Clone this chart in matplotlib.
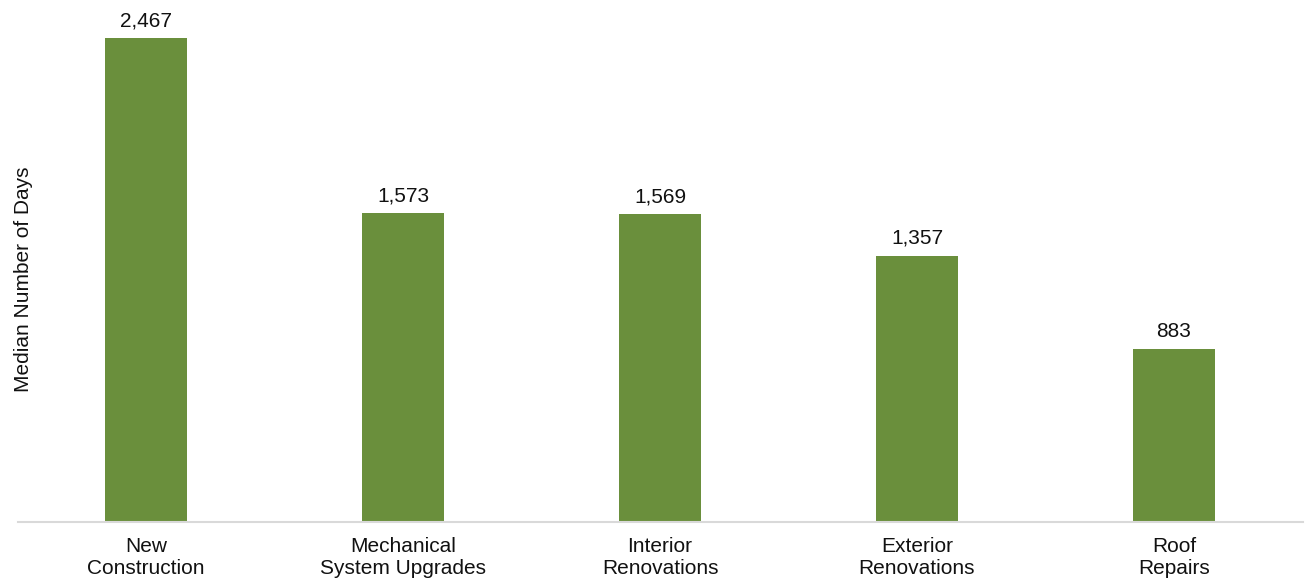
import numpy as np
from matplotlib import pyplot as plt

plt.rcParams['font.family'] = ['Liberation Sans', 'DejaVu Sans']

categories = ["New\nConstruction", "Mechanical\nSystem Upgrades", "Interior\nRenovations",
              "Exterior\nRenovations", "Roof\nRepairs"]
median_days = [2467, 1573, 1569, 1357, 883]

bar_color = "#6a8f3c"

fig = plt.figure(figsize=(13.06, 5.84), dpi=100)
ax = fig.add_axes([17.5 / 1306, 62 / 584, 1285 / 1306, 510 / 584])

x = np.arange(len(categories))
bars = ax.bar(x, median_days, width=0.32, color=bar_color)

for b, v in zip(bars, median_days):
    ax.text(b.get_x() + b.get_width() / 2, v + 40, f"{v:,}",
            ha="center", va="bottom", fontsize=15, color="#111111")

ax.set_xlim(-0.5, len(categories) - 0.5)
ax.set_ylim(0, 2600)
ax.set_xticks(x)
ax.set_xticklabels(categories, fontsize=15, color="#111111", linespacing=1.15)
ax.tick_params(axis="x", length=0, pad=11)
ax.set_yticks([])
ax.set_ylabel("Median Number of Days", fontsize=15, color="#111111")
ax.yaxis.set_label_coords(0.012, 0.475)

for s in ["top", "right", "left"]:
    ax.spines[s].set_visible(False)
ax.spines["bottom"].set_color("#d9d9d9")
ax.spines["bottom"].set_linewidth(1.5)

fig.savefig("out.png", dpi=100)
